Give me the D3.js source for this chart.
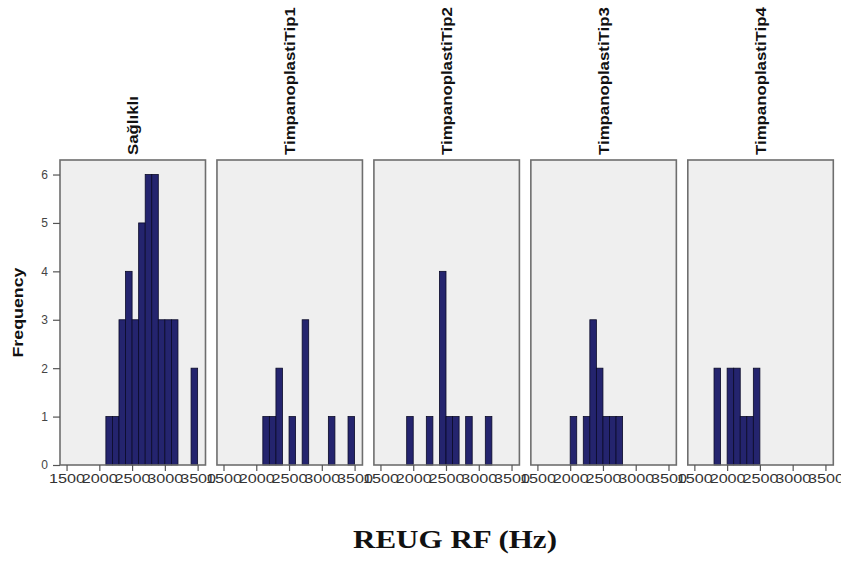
<!DOCTYPE html>
<html>
<head>
<meta charset="utf-8">
<script src="https://cdn.jsdelivr.net/npm/d3@7"></script>
<style>
  body { margin: 0; background: #fff; }
  svg { display: block; }
</style>
</head>
<body>
<div id="chart"></div>
<script>
// histogram groups (panels)
const groups = ["Sağlıklı", "TimpanoplastiTip1", "TimpanoplastiTip2", "TimpanoplastiTip3", "TimpanoplastiTip4"];
const binWidth = 100; // Hz

// bin start (Hz) and frequency
const saglikliBins = [2100, 2200, 2300, 2400, 2500, 2600, 2700, 2800, 2900, 3000, 3100, 3400];
const saglikliFreq = [1, 1, 3, 4, 3, 5, 6, 6, 3, 3, 3, 2];
const tip1Bins = [2100, 2200, 2300, 2500, 2700, 3100, 3400];
const tip1Freq = [1, 1, 2, 1, 3, 1, 1];
const tip2Bins = [1900, 2200, 2400, 2500, 2600, 2800, 3100];
const tip2Freq = [1, 1, 4, 1, 1, 1, 1];
const tip3Bins = [2000, 2200, 2300, 2400, 2500, 2600, 2700];
const tip3Freq = [1, 1, 3, 2, 1, 1, 1];
const tip4Bins = [1800, 2000, 2100, 2200, 2300, 2400];
const tip4Freq = [2, 2, 2, 1, 1, 2];

const xTicks = [1500, 2000, 2500, 3000, 3500];
const yTicks = [0, 1, 2, 3, 4, 5, 6];

const allBins = [saglikliBins, tip1Bins, tip2Bins, tip3Bins, tip4Bins];
const allFreq = [saglikliFreq, tip1Freq, tip2Freq, tip3Freq, tip4Freq];

const panels = groups.map((g, i) => ({
    name: g,
    bars: allBins[i].map((b, j) => ({ x0: b, x1: b + binWidth, n: allFreq[i][j] }))
}));

const width = 841,
      height = 563,
      margin = ({ top: 160, right: 8, bottom: 98, left: 60 });

let svg = d3.select("#chart")
    .append("svg")
    .attr("width", width)
    .attr("height", height)
    .style("font-family", "'Liberation Sans', Arial, sans-serif");

let panelX = d3.scaleBand()
    .domain(groups)
    .range([margin.left, 833.3])
    .paddingInner(0.073)
    .paddingOuter(0);

let y = d3.scaleLinear()
    .domain([0, 6.3])
    .range([height - margin.bottom, margin.top]);

let x = d3.scaleLinear()
    .domain([1400, 3620])
    .range([0, panelX.bandwidth()]);

let panel = svg.selectAll(".panel")
    .data(panels)
    .join("g")
    .attr("class", "panel")
    .attr("transform", d => `translate(${panelX(d.name)},0)`);

panel.append("rect") // panel background
    .attr("x", 0)
    .attr("y", margin.top)
    .attr("width", panelX.bandwidth())
    .attr("height", y(0) - margin.top)
    .attr("fill", "#efefef");

panel.selectAll(".bar")
    .data(d => d.bars)
    .join("rect")
    .attr("class", "bar")
    .attr("x", d => x(d.x0))
    .attr("width", d => x(d.x1) - x(d.x0))
    .attr("y", d => y(d.n))
    .attr("height", d => y(0) - y(d.n))
    .attr("fill", "#24246e")
    .attr("stroke", "#0a0a28")
    .attr("stroke-width", 0.8);

panel.append("rect") // panel border
    .attr("x", 0)
    .attr("y", margin.top)
    .attr("width", panelX.bandwidth())
    .attr("height", y(0) - margin.top)
    .attr("fill", "none")
    .attr("stroke", "#6e6e6e")
    .attr("stroke-width", 1.6);

// x axis for every panel
panel.append("g")
    .attr("transform", `translate(0,${y(0)})`)
    .call(d3.axisBottom(x).tickValues(xTicks).tickSize(6).tickPadding(3).tickFormat(d3.format("d")))
    .call(g => g.select(".domain").remove())
    .call(g => g.selectAll(".tick line").attr("stroke", "#555").attr("stroke-width", 1.2))
    .call(g => g.selectAll(".tick text")
        .attr("fill", "#333")
        .style("font-size", "12px")
        .attr("textLength", 36)
        .attr("lengthAdjust", "spacingAndGlyphs"));

// panel titles, rotated
panel.append("text")
    .text(d => d.name)
    .attr("transform", `translate(${panelX.bandwidth() / 2 + 5},155) rotate(-90)`)
    .attr("text-anchor", "start")
    .style("font-size", "14px")
    .style("font-weight", "bold")
    .attr("fill", "#111")
    .each(function() {
        let len = this.getComputedTextLength();
        d3.select(this).attr("textLength", len * 1.2).attr("lengthAdjust", "spacingAndGlyphs");
    });

// y axis on first panel
svg.append("g")
    .attr("transform", `translate(${margin.left},0)`)
    .call(d3.axisLeft(y).tickValues(yTicks).tickSize(7).tickPadding(5).tickFormat(d3.format("d")))
    .call(g => g.select(".domain").remove())
    .call(g => g.selectAll(".tick line").attr("stroke", "#555").attr("stroke-width", 1.2))
    .call(g => g.selectAll(".tick text").attr("fill", "#444").style("font-size", "12px"));

svg.append("text") // y label
    .text("Frequency")
    .attr("transform", `translate(23,${(y(0) + y(6.3)) / 2}) rotate(-90)`)
    .attr("text-anchor", "middle")
    .style("font-size", "14px")
    .style("font-weight", "bold")
    .attr("fill", "#111")
    .attr("textLength", 90)
    .attr("lengthAdjust", "spacingAndGlyphs");

svg.append("text") // x label
    .text("REUG RF (Hz)")
    .attr("x", 455)
    .attr("y", 548)
    .attr("text-anchor", "middle")
    .style("font-family", "'Liberation Serif', 'Times New Roman', serif")
    .style("font-size", "26px")
    .style("font-weight", "bold")
    .attr("fill", "#111")
    .attr("textLength", 204)
    .attr("lengthAdjust", "spacingAndGlyphs");
</script>
</body>
</html>
